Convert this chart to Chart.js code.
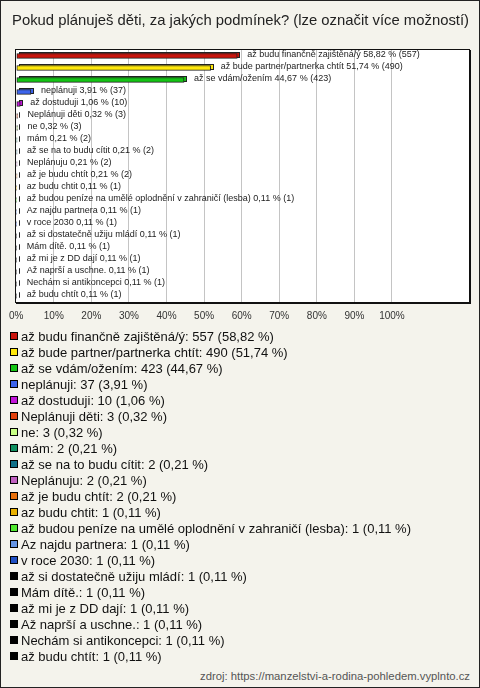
<!DOCTYPE html>
<html>
<head>
<meta charset="utf-8">
<script src="https://cdn.jsdelivr.net/npm/chart.js@4/dist/chart.umd.min.js"></script>
<style>
html, body { margin: 0; padding: 0; }
body {
    width: 478px; height: 686px; position: relative; overflow: hidden;
    background: #f4f3ec; border: 1px solid #222;
    font-family: "Liberation Sans", Arial, sans-serif;
}
#wrap { position: absolute; left: 0; top: 0; width: 478px; height: 330px; }
#legend { position: absolute; left: 9px; top: 327px; margin: 0; padding: 0; list-style: none; }
#legend li { display: flex; align-items: center; height: 16px; font-size: 13px; color: #111; white-space: nowrap; }
#legend li span { display: inline-block; width: 6px; height: 6px; border: 1px solid #000; margin-right: 3px; }
#src { position: absolute; right: 9px; top: 668px; font-size: 11.3px; line-height: 14px; color: #555; }
</style>
</head>
<body>
<div id="wrap"><canvas id="myChart"></canvas></div>
<ul id="legend"></ul>
<div id="src">zdroj: https://manzelstvi-a-rodina-pohledem.vyplnto.cz</div>
<script>
const categories = [
    'až budu finančně zajištěná/ý',
    'až bude partner/partnerka chtít',
    'až se vdám/ožením',
    'neplánuji',
    'až dostuduji',
    'Neplánuji děti',
    'ne',
    'mám',
    'až se na to budu cítit',
    'Neplánuju',
    'až je budu chtít',
    'az budu chtit',
    'až budou peníze na umělé oplodnění v zahraničí (lesba)',
    'Az najdu partnera',
    'v roce 2030',
    'až si dostatečně užiju mládí',
    'Mám dítě.',
    'až mi je z DD dají',
    'Až naprší a uschne.',
    'Nechám si antikoncepci',
    'až budu chtít'
];
const counts = [557, 490, 423, 37, 10, 3, 3, 2, 2, 2, 2, 1, 1, 1, 1, 1, 1, 1, 1, 1, 1];
const percents = [58.82, 51.74, 44.67, 3.91, 1.06, 0.32, 0.32, 0.21, 0.21, 0.21, 0.21,
    0.11, 0.11, 0.11, 0.11, 0.11, 0.11, 0.11, 0.11, 0.11, 0.11];
const xTicks = [0, 10, 20, 30, 40, 50, 60, 70, 80, 90, 100];

const colors = [
    '#c8140c', '#ffe80c', '#14c414', '#3c64ec', '#c014d8', '#e0400c', '#c8ff84',
    '#109060', '#107088', '#c060c0', '#e8700c', '#e8b000', '#50e830', '#6494e4',
    '#2050c4', '#000000', '#000000', '#000000', '#000000', '#000000', '#000000'
];

const fmt = v => v.toFixed(2).replace('.', ',');

// legend list under the chart
const legend = document.getElementById('legend');
categories.forEach((c, i) => {
    const li = document.createElement('li');
    const sq = document.createElement('span');
    sq.style.background = colors[i];
    li.appendChild(sq);
    li.appendChild(document.createTextNode(c + ': ' + counts[i] + ' (' + fmt(percents[i]) + ' %)'));
    legend.appendChild(li);
});

const plotFrame = {
    id: 'plotFrame',
    beforeDraw(chart) {
        const a = chart.chartArea, g = chart.ctx;
        g.save();
        g.fillStyle = '#fff';
        g.fillRect(a.left, a.top, a.right - a.left, a.bottom - a.top);
        g.restore();
    },
    beforeDatasetsDraw(chart) {
        // back face of the pseudo 3d bars
        const g = chart.ctx;
        g.save();
        chart.getDatasetMeta(0).data.forEach((bar, i) => {
            const h = bar.height;
            g.fillStyle = colors[i];
            g.strokeStyle = '#222';
            g.lineWidth = 1;
            const x0 = Math.round(bar.base) + 2.5, x1 = Math.round(bar.x) + 2.5;
            const y0 = Math.round(bar.y - h / 2) - 1.5;
            g.fillRect(x0, y0, x1 - x0, h);
            g.strokeRect(x0, y0, x1 - x0, h);
        });
        g.restore();
    },
    afterDatasetsDraw(chart) {
        const g = chart.ctx;
        g.save();
        g.font = '9px "Liberation Sans", Arial, sans-serif';
        g.fillStyle = '#222';
        g.textAlign = 'left';
        g.textBaseline = 'middle';
        chart.getDatasetMeta(0).data.forEach((bar, i) => {
            const txt = categories[i] + ' ' + fmt(percents[i]) + ' % (' + counts[i] + ')';
            g.fillText(txt, bar.x + 10, bar.y - 1);
        });
        g.restore();
    },
    afterDraw(chart) {
        const a = chart.chartArea, g = chart.ctx;
        g.save();
        g.strokeStyle = '#111';
        g.lineWidth = 1;
        g.strokeRect(Math.round(a.left) - 0.5, Math.round(a.top) - 0.5,
            Math.round(a.right - a.left) + 1, Math.round(a.bottom - a.top) + 1);
        g.fillStyle = '#111';
        g.fillRect(Math.round(a.right), Math.round(a.top), 2, Math.round(a.bottom - a.top) + 2);
        g.fillRect(Math.round(a.left), Math.round(a.bottom), Math.round(a.right - a.left) + 2, 2);
        g.restore();
    }
};

new Chart(document.getElementById('myChart'), {
    type: 'bar',
    data: {
        labels: categories,
        datasets: [{
            data: percents,
            backgroundColor: colors,
            borderColor: '#222',
            borderWidth: 1,
            borderSkipped: false,
            barThickness: 5
        }]
    },
    options: {
        indexAxis: 'y',
        responsive: true,
        maintainAspectRatio: false,
        animation: false,
        layout: { padding: { left: 11, right: 10, top: 0, bottom: 1 } },
        plugins: {
            legend: { display: false },
            tooltip: { enabled: false },
            title: {
                display: true,
                text: 'Pokud plánuješ děti, za jakých podmínek? (lze označit více možností)',
                color: '#222',
                font: { family: '"Liberation Sans", Arial, sans-serif', size: 15, weight: 'normal' },
                padding: { top: 11, bottom: 20 }
            }
        },
        scales: {
            x: {
                min: 0,
                max: 120.5,
                afterBuildTicks: axis => { axis.ticks = xTicks.map(v => ({ value: v })); },
                ticks: {
                    autoSkip: false,
                    maxRotation: 0,
                    padding: 8,
                    color: '#333',
                    font: { family: '"Liberation Sans", Arial, sans-serif', size: 10 },
                    callback: v => v + '%'
                },
                grid: {
                    drawTicks: false,
                    color: ctx => (ctx.tick && ctx.tick.value === 0) ? 'rgba(0,0,0,0)' : '#c4c4c4'
                },
                border: { display: false }
            },
            y: { display: false }
        }
    },
    plugins: [plotFrame]
});
</script>
</body>
</html>
